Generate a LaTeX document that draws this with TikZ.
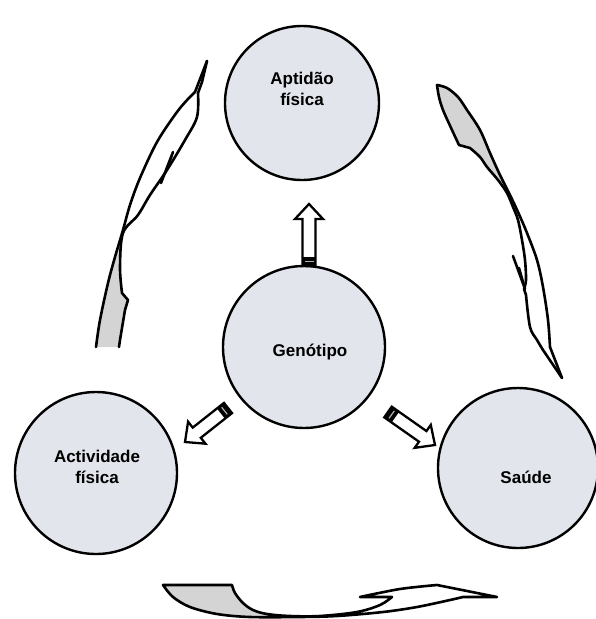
\documentclass[tikz,border=0pt]{standalone}
\usepackage{fontspec}
\setmainfont{Liberation Sans}
\usetikzlibrary{calc}

\definecolor{discfill}{RGB}{226,229,235}
\definecolor{swooshfill}{RGB}{212,212,212}

\tikzset{
  disc/.style={circle, draw=black, line width=2.4pt, fill=discfill, inner sep=0pt, outer sep=0pt},
  disclabel/.style={align=center, font=\bfseries\fontsize{17}{21}\selectfont},
  arrowbody/.style={draw=black, fill=white, line width=2.3pt, line join=miter},
  swline/.style={draw=black, line width=2.6pt, line join=round, line cap=round},
  swarea/.style={fill=swooshfill},
}

% hollow block arrow from #1 (tail) to #2 (tip), dark band at the tail
\newcommand\blockarrow[2]{%
  \coordinate (hb) at ($(#2)!15pt!(#1)$);
  \coordinate (bb) at ($(#1)!9pt!(#2)$);
  \coordinate (bm) at ($(#1)!4.5pt!(#2)$);
  \draw[arrowbody]
    ($(#1)!6.5pt!90:(#2)$) -- ($(hb)!6.5pt!-90:(#1)$) -- ($(hb)!14pt!-90:(#1)$)
    -- (#2) -- ($(hb)!14pt!90:(#1)$) -- ($(hb)!6.5pt!90:(#1)$)
    -- ($(#1)!6.5pt!-90:(#2)$) -- cycle;
  \fill ($(#1)!6.5pt!90:(#2)$) -- ($(bb)!6.5pt!-90:(#1)$)
    -- ($(bb)!6.5pt!90:(#1)$) -- ($(#1)!6.5pt!-90:(#2)$) -- cycle;
  \draw[white!70!black, line width=1.2pt] ($(bm)!4.5pt!90:(#2)$) -- ($(bm)!4.5pt!-90:(#2)$);
}

\begin{document}
\begin{tikzpicture}[x=1pt, y=-1pt]
\useasboundingbox (0,0) rectangle (596,619);
\fill[white] (0,0) rectangle (596,619);

% the four circles
\node[disc, minimum size=154pt] (apt) at (302,103) {};
\node[disc, minimum size=162pt] (gen) at (304,347) {};
\node[disc, minimum size=162pt] (act) at (96,473) {};
\node[disc, minimum size=160pt] (sau) at (518,468) {};

\node[disclabel] (aptlabel) at (302,89) {Aptidão\\física};
\node[disclabel] (genlabel) at (310,352) {Genótipo};
\node[disclabel] (actlabel) at (97,467) {Actividade\\física};
\node[disclabel] (saulabel) at (526,477) {Saúde};

% block arrows leaving the genotype circle
\coordinate (upTail) at ($(gen.center)+(5,-81)$);
\coordinate (upTip) at (309,204);
\coordinate (leftTail) at ($(gen.center)+(-76,61)$);
\coordinate (leftTip) at (185,442);
\coordinate (rightTail) at ($(gen.center)+(84,65)$);
\coordinate (rightTip) at (435,445);
\blockarrow{upTail}{upTip}
\blockarrow{leftTail}{leftTip}
\blockarrow{rightTail}{rightTip}

% left swoosh: activity -> fitness
\fill[swarea] plot[smooth, tension=.55] coordinates {(123,231) (115,257) (108,283) (100,320) (96,347)}
  -- (119,347) -- (120,340) -- (125,310) -- (128,300) -- (122,293)
  -- plot[smooth, tension=.55] coordinates {(122,293) (120,267) (123,233)} -- cycle;
\draw[swline] plot[smooth, tension=.55] coordinates {(96,347) (100,320) (108,283) (115,257) (123,230) (130,205) (140,178) (157,142) (177,112) (189,98)}
  -- (195,92) -- (207,61);
\draw[swline] (207,61) -- (202,82)
  -- plot[smooth, tension=.55] coordinates {(198,93) (197,117) (185,140) (167,170) (150,195) (138,215) (123,233) (120,267) (122,293)}
  -- (128,300) -- (125,310) -- (120,340) -- (119,347);
\draw[swline] (161,183) -- (173,152) -- (168,166);

% right swoosh: fitness -> health
\fill[swarea] plot[smooth, tension=.55] coordinates {(437,85) (447,88) (458,97) (467,110) (480,130) (490,153) (500,175) (507,193)}
  -- plot[smooth, tension=.55] coordinates {(507,193) (498,180) (487,167) (480,157) (470,148)}
  -- (459,145)
  -- plot[smooth, tension=.55] coordinates {(459,145) (452,130) (443,110) (439,97) (437,85)} -- cycle;
\draw[swline] plot[smooth, tension=.55] coordinates {(437,85) (447,88) (458,97) (467,110) (480,130) (490,153) (500,175) (510,195) (518,212) (527,233) (537,260) (543,287) (548,320) (550,347)}
  -- (562,378);
\draw[swline] plot[smooth, tension=.55] coordinates {(437,85) (439,97) (443,110) (452,130) (459,145)}
  -- plot[smooth, tension=.55] coordinates {(470,148) (480,157) (487,167) (498,180) (507,193) (513,207) (518,220) (522,240) (525,260) (526,280) (524,289)}
  -- plot[smooth, tension=.55] coordinates {(526,295) (530,327) (537,340) (543,350)}
  -- (562,378);
\draw[swline] (513,256) -- (525,289) -- (519,268);

% bottom swoosh: health -> activity
\fill[swarea] (163,585) -- (232,585)
  -- plot[smooth, tension=.55] coordinates {(232,585) (235,593) (243,603) (253,610) (267,615) (290,617)}
  -- plot[smooth, tension=.55] coordinates {(290,617) (250,617) (217,614) (190,607) (173,597) (163,585)} -- cycle;
\draw[swline] (163,585) -- (232,585)
  -- plot[smooth, tension=.55] coordinates {(232,585) (235,593) (243,603) (253,610) (267,614) (290,616) (320,616) (357,612) (380,605) (392,597)}
  -- (360,597) -- plot[smooth, tension=.55] coordinates {(360,597) (400,589) (437,585)} -- (497,597) -- (463,597)
  -- plot[smooth, tension=.55] coordinates {(463,597) (450,600) (417,607) (383,612) (337,616) (300,617) (250,617) (217,614) (190,607) (173,597) (163,585)};
\end{tikzpicture}
\end{document}
